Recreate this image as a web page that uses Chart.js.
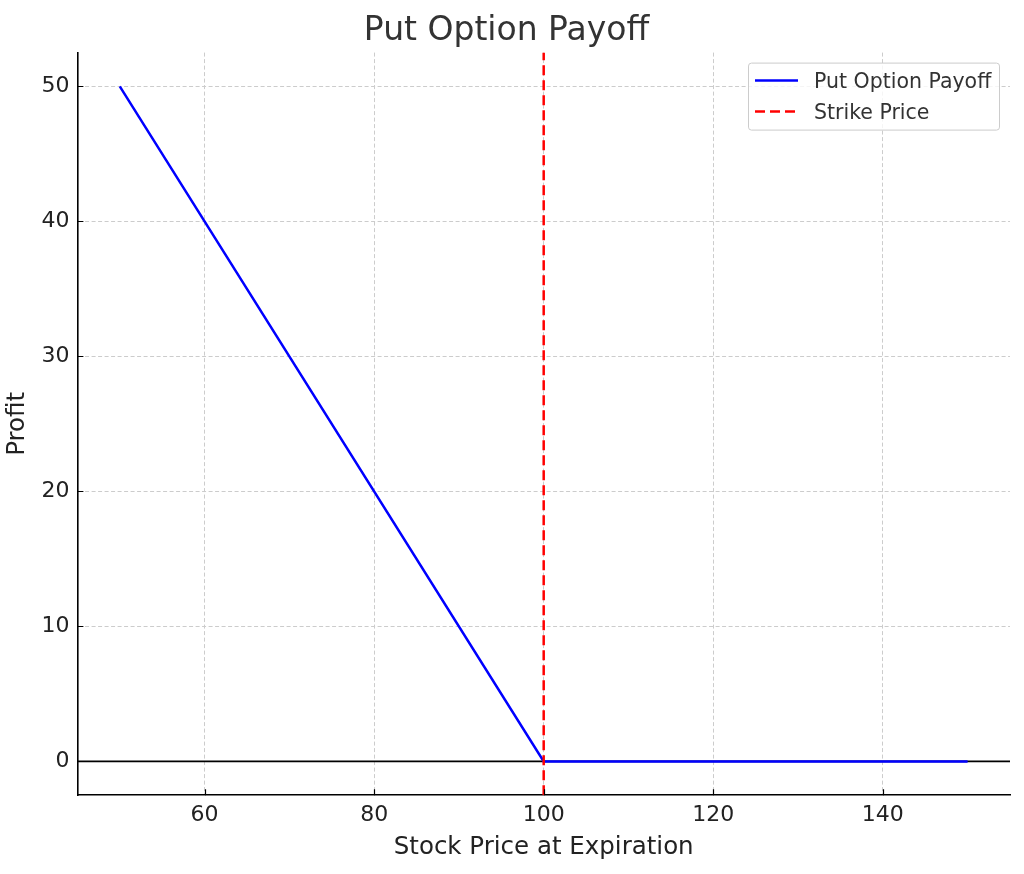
<!DOCTYPE html>
<html>
<head>
<meta charset="utf-8">
<script src="https://cdn.jsdelivr.net/npm/chart.js@4/dist/chart.umd.min.js"></script>
<style>
  html, body { margin: 0; padding: 0; background: #fff; }
  #wrap { width: 1024px; height: 874px; }
</style>
</head>
<body>
<div id="wrap"><canvas id="payoffChart"></canvas></div>
<script>
// data
const stockPrices = [50, 100, 150];
const payoffValues = [50, 0, 0];
const strikeX = [100, 100];
const strikeY = [-2.5, 52.5];
const zeroX = [45, 155];
const zeroY = [0, 0];
const xTicks = [60, 80, 100, 120, 140];
const yTicks = [0, 10, 20, 30, 40, 50];

const FONT = "'DejaVu Sans', sans-serif";

function toPoints(xs, ys) {
  return xs.map((x, i) => ({ x: x, y: ys[i] }));
}

// matplotlib style: ticks pointing inward
const innerTicks = {
  id: 'innerTicks',
  afterDraw(chart) {
    const ctx = chart.ctx;
    const a = chart.chartArea;
    const sx = chart.scales.x, sy = chart.scales.y;
    ctx.save();
    ctx.strokeStyle = '#000';
    ctx.lineWidth = 1.2;
    ctx.beginPath();
    sx.ticks.forEach(t => {
      const px = Math.round(sx.getPixelForValue(t.value)) + 0.5;
      ctx.moveTo(px, a.bottom);
      ctx.lineTo(px, a.bottom - 6);
    });
    sy.ticks.forEach(t => {
      const py = Math.round(sy.getPixelForValue(t.value)) + 0.5;
      ctx.moveTo(a.left, py);
      ctx.lineTo(a.left + 6, py);
    });
    ctx.stroke();
    ctx.restore();
  }
};

// legend drawn inside the plot, top right
const insideLegend = {
  id: 'insideLegend',
  afterDraw(chart) {
    const ctx = chart.ctx;
    const area = chart.chartArea;
    const items = chart.data.datasets.filter(d => d.inLegend);
    const w = 251, h = 67;
    const x0 = area.right - 11 - w;
    const y0 = area.top + 10;
    ctx.save();
    ctx.fillStyle = 'rgba(255,255,255,0.8)';
    ctx.strokeStyle = '#cccccc';
    ctx.lineWidth = 1;
    ctx.beginPath();
    ctx.roundRect(x0 + 0.5, y0 + 0.5, w, h, 3);
    ctx.fill();
    ctx.stroke();
    ctx.font = "20.5px " + FONT;
    ctx.textBaseline = 'middle';
    items.forEach((d, i) => {
      const cy = y0 + 18 + i * 31;
      ctx.strokeStyle = d.borderColor;
      ctx.lineWidth = d.borderWidth;
      ctx.setLineDash(d.borderDash || []);
      ctx.beginPath();
      ctx.moveTo(x0 + 7, cy);
      ctx.lineTo(x0 + 50, cy);
      ctx.stroke();
      ctx.setLineDash([]);
      ctx.fillStyle = '#333333';
      ctx.fillText(d.label, x0 + 66, cy + 2);
    });
    ctx.restore();
  }
};

const ctx = document.getElementById("payoffChart").getContext("2d");
const payoffChart = new Chart(ctx, {
  type: "scatter",
  data: {
    datasets: [
      { label: "Put Option Payoff", data: toPoints(stockPrices, payoffValues), showLine: true, borderColor: "#0000ff", borderWidth: 2.5, pointRadius: 0, inLegend: true, order: 2 },
      { label: "Strike Price", data: toPoints(strikeX, strikeY), showLine: true, borderColor: "#ff0000", borderWidth: 2.5, borderDash: [10, 5], pointRadius: 0, inLegend: true, order: 1 },
      { label: "zero", data: toPoints(zeroX, zeroY), showLine: true, borderColor: "#000000", borderWidth: 1.8, pointRadius: 0, order: 3 }
    ]
  },
  options: {
    responsive: true, maintainAspectRatio: false, animation: false,
    layout: { padding: { left: 3, right: 14, top: 0, bottom: 12 } },
    plugins: {
      legend: { display: false },
      tooltip: { enabled: false },
      title: { display: true, text: "Put Option Payoff", color: "#333333", font: { family: FONT, size: 33, weight: "normal" }, padding: { top: 12, bottom: 1 } }
    },
    scales: {
      x: {
        type: "linear", min: 45, max: 155,
        afterBuildTicks: s => { s.ticks = xTicks.map(v => ({ value: v })); },
        grid: { color: "#cccccc", drawTicks: false, lineWidth: 1 },
        border: { display: true, color: "#000000", width: 1.6, dash: [4, 2.5] },
        ticks: { color: "#222222", font: { family: FONT, size: 22 }, padding: 7 },
        title: { display: true, text: "Stock Price at Expiration", color: "#222222", font: { family: FONT, size: 24.5 }, padding: { top: -3, bottom: 0 } }
      },
      y: {
        min: -2.5, max: 52.5,
        afterBuildTicks: s => { s.ticks = yTicks.map(v => ({ value: v })); },
        grid: { color: "#cccccc", drawTicks: false, lineWidth: 1 },
        border: { display: true, color: "#000000", width: 1.6, dash: [4, 2.5] },
        ticks: { color: "#222222", font: { family: FONT, size: 22 }, padding: 8 },
        title: { display: true, text: "Profit", color: "#222222", font: { family: FONT, size: 24.5 }, padding: { top: 0, bottom: 1 } }
      }
    }
  },
  plugins: [innerTicks, insideLegend]
});
</script>
</body>
</html>
